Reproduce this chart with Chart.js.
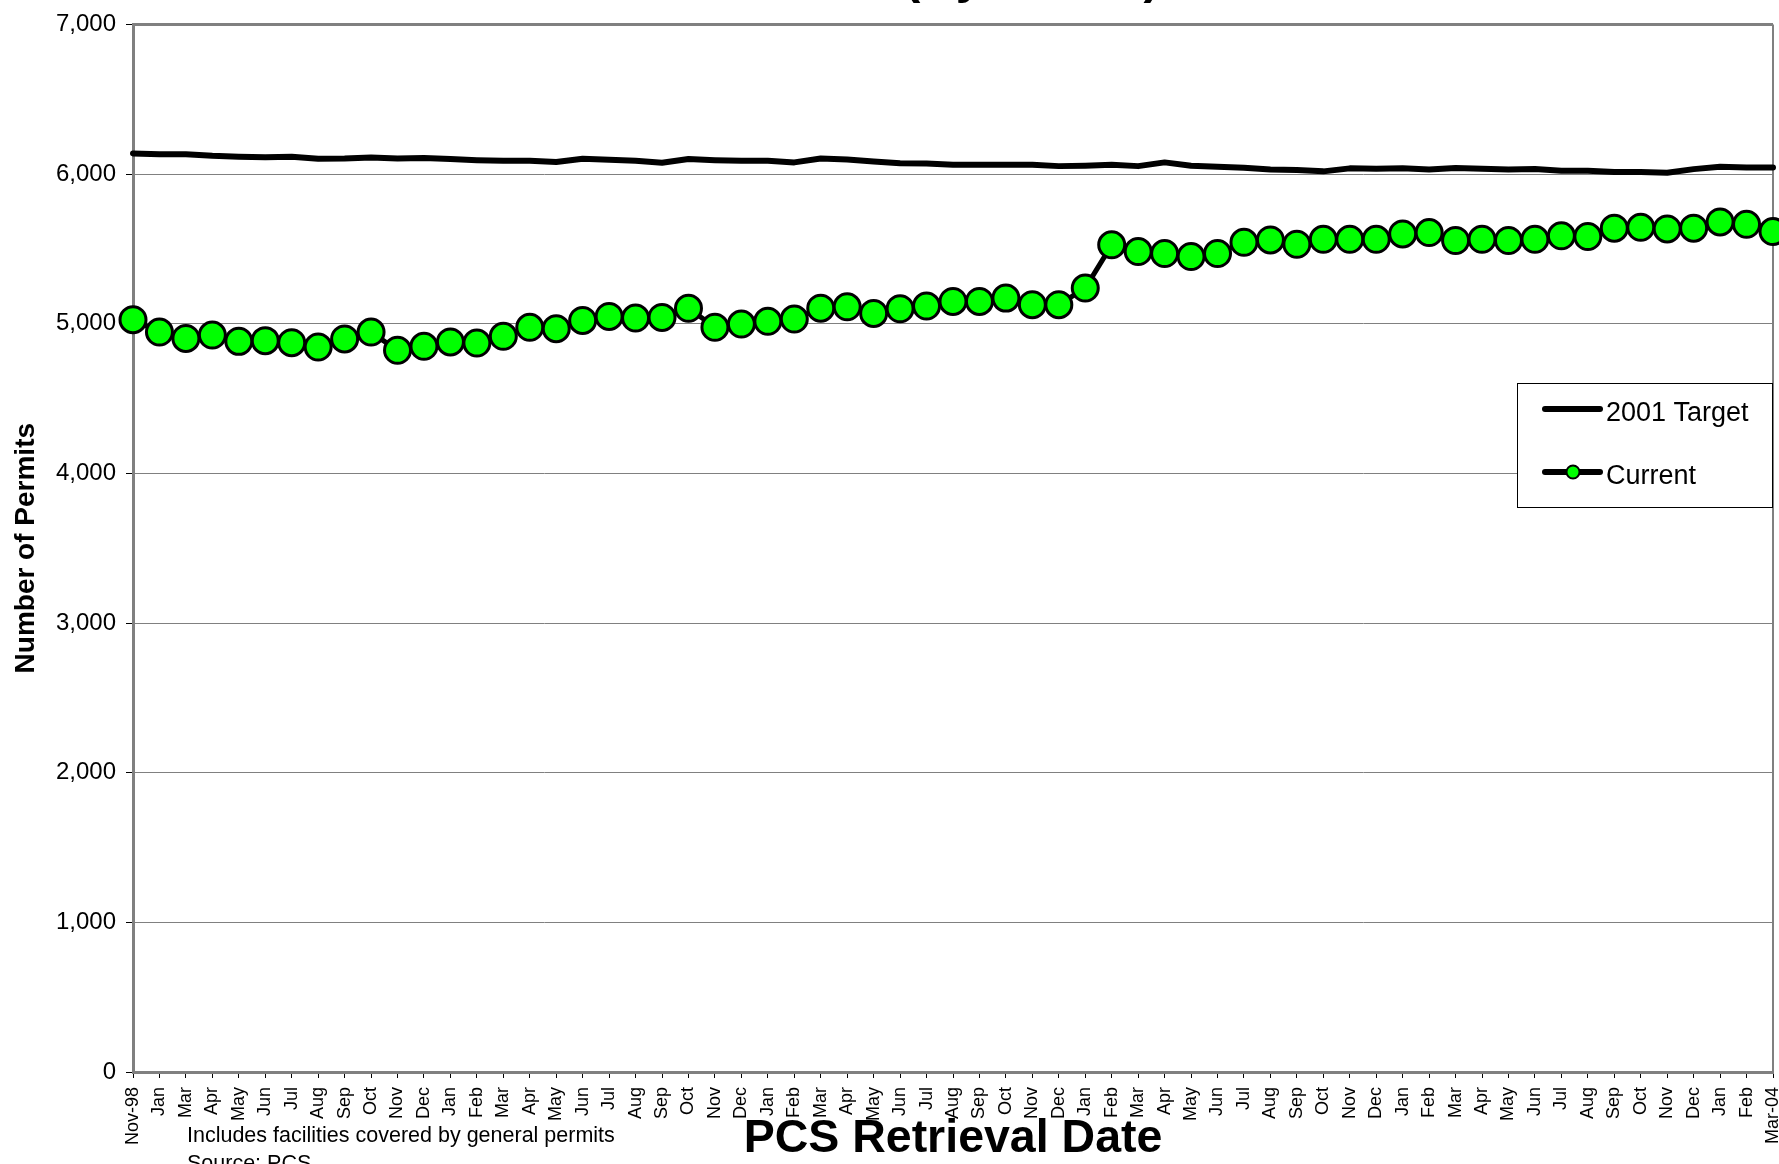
<!DOCTYPE html>
<html>
<head>
<meta charset="utf-8">
<title>Number of Permits by PCS Retrieval Date</title>
<script src="https://cdn.jsdelivr.net/npm/chart.js@4.4.0/dist/chart.umd.min.js"></script>
<style>
  html, body { margin: 0; padding: 0; background: #fff; overflow: hidden; }
  canvas { display: block; }
</style>
</head>
<body>
<canvas id="permits-chart" width="1779" height="1164"></canvas>
<script>
// --- data ---
const months = [
  'Nov-98', 'Jan', 'Mar', 'Apr', 'May', 'Jun', 'Jul', 'Aug', 'Sep', 'Oct', 'Nov', 'Dec',
  'Jan', 'Feb', 'Mar', 'Apr', 'May', 'Jun', 'Jul', 'Aug', 'Sep', 'Oct', 'Nov', 'Dec',
  'Jan', 'Feb', 'Mar', 'Apr', 'May', 'Jun', 'Jul', 'Aug', 'Sep', 'Oct', 'Nov', 'Dec',
  'Jan', 'Feb', 'Mar', 'Apr', 'May', 'Jun', 'Jul', 'Aug', 'Sep', 'Oct', 'Nov', 'Dec',
  'Jan', 'Feb', 'Mar', 'Apr', 'May', 'Jun', 'Jul', 'Aug', 'Sep', 'Oct', 'Nov', 'Dec',
  'Jan', 'Feb', 'Mar-04'
];

const target2001 = [
  6138, 6133, 6133, 6122, 6116, 6113, 6116, 6102, 6104, 6111,
  6104, 6107, 6100, 6093, 6089, 6089, 6080, 6102, 6096, 6089,
  6076, 6100, 6093, 6089, 6089, 6078, 6104, 6098, 6084, 6073,
  6071, 6062, 6062, 6062, 6062, 6053, 6056, 6062, 6053, 6078,
  6056, 6049, 6042, 6031, 6027, 6018, 6038, 6036, 6038, 6031,
  6040, 6036, 6031, 6033, 6022, 6022, 6013, 6013, 6009, 6033,
  6049, 6044, 6044
];

const current = [
  5027, 4944, 4902, 4924, 4882, 4887, 4873, 4844, 4898, 4944,
  4822, 4849, 4878, 4871, 4916, 4976, 4967, 5022, 5049, 5038,
  5042, 5103, 4976, 4998, 5016, 5031, 5104, 5113, 5069, 5100,
  5118, 5149, 5149, 5171, 5127, 5127, 5238, 5527, 5482, 5469,
  5449, 5469, 5544, 5560, 5531, 5564, 5564, 5564, 5600, 5609,
  5556, 5564, 5556, 5564, 5587, 5582, 5638, 5644, 5633, 5638,
  5680, 5664, 5616
];

const yTicks = [0, 1000, 2000, 3000, 4000, 5000, 6000, 7000];

const titleText = '(By Month)';
const yTitle = 'Number of Permits';
const xTitle = 'PCS Retrieval Date';
const notes = ['Includes facilities covered by general permits', 'Source: PCS'];

const FONT = '"Liberation Sans", Arial, sans-serif';
Chart.defaults.font.family = FONT;
Chart.defaults.color = '#000';

// gray frame on top and right of the plot area (Excel style)
const framePlugin = {
  id: 'plotFrame',
  beforeDatasetsDraw(chart) {
    const { ctx, chartArea: a } = chart;
    ctx.save();
    ctx.strokeStyle = '#808080';
    ctx.lineWidth = 3;
    ctx.beginPath();
    ctx.moveTo(a.left, a.top);
    ctx.lineTo(a.right, a.top);
    ctx.stroke();
    ctx.lineWidth = 2;
    ctx.beginPath();
    ctx.moveTo(a.right, a.top);
    ctx.lineTo(a.right, a.bottom);
    ctx.stroke();
    ctx.restore();
  }
};

// titles and footnote
const textPlugin = {
  id: 'chartText',
  afterDraw(chart) {
    const { ctx, chartArea: a } = chart;
    ctx.save();
    ctx.fillStyle = '#000';

    // title sits mostly above the crop, only its bottom shows
    ctx.font = `bold 49px ${FONT}`;
    ctx.textAlign = 'center';
    ctx.textBaseline = 'alphabetic';
    ctx.fillText(titleText, 1032, -7);

    ctx.font = `bold 46.5px ${FONT}`;
    ctx.fillText(xTitle, (a.left + a.right) / 2, 1152);

    ctx.font = `21.5px ${FONT}`;
    ctx.textAlign = 'left';
    notes.forEach((line, i) => ctx.fillText(line, 187, 1142 + i * 28));

    ctx.translate(26, (a.top + a.bottom) / 2);
    ctx.rotate(-Math.PI / 2);
    ctx.font = `bold 28px ${FONT}`;
    ctx.textAlign = 'center';
    ctx.textBaseline = 'middle';
    ctx.fillText(yTitle, 0, 0);
    ctx.restore();
  }
};

// boxed legend: line sample with marker, like the original
const legendPlugin = {
  id: 'boxLegend',
  afterDraw(chart) {
    const { ctx, chartArea: a } = chart;
    const w = 255, h = 124;
    const x = a.right - w - 1, y = 383;
    ctx.save();
    ctx.fillStyle = '#fff';
    ctx.fillRect(x, y, w, h);
    ctx.strokeStyle = '#000';
    ctx.lineWidth = 1;
    ctx.strokeRect(x + 0.5, y + 0.5, w, h);
    ctx.font = `27px ${FONT}`;
    ctx.textBaseline = 'middle';
    ctx.textAlign = 'left';
    chart.data.datasets.forEach((ds, i) => {
      const cy = y + 26 + i * 63;
      ctx.strokeStyle = ds.borderColor;
      ctx.lineWidth = 6;
      ctx.lineCap = 'round';
      ctx.beginPath();
      ctx.moveTo(x + 28, cy);
      ctx.lineTo(x + 83, cy);
      ctx.stroke();
      if (ds.pointRadius > 0) {
        ctx.beginPath();
        ctx.arc(x + 56, cy, 6.5, 0, Math.PI * 2);
        ctx.fillStyle = ds.pointBackgroundColor;
        ctx.fill();
        ctx.lineWidth = 2;
        ctx.strokeStyle = ds.pointBorderColor;
        ctx.stroke();
      }
      ctx.fillStyle = '#000';
      ctx.fillText(ds.label, x + 89, cy + 5);
    });
    ctx.restore();
  }
};

const noPadding = () => ({ left: 0, top: 0, right: 0, bottom: 0 });

new Chart(document.getElementById('permits-chart'), {
  type: 'line',
  data: {
    labels: months,
    datasets: [
      {
        label: '2001 Target',
        data: target2001,
        borderColor: '#000',
        borderWidth: 6,
        borderCapStyle: 'round',
        borderJoinStyle: 'round',
        pointRadius: 0,
        clip: false
      },
      {
        label: 'Current',
        data: current,
        borderColor: '#000',
        borderWidth: 5,
        borderJoinStyle: 'round',
        pointRadius: 13,
        pointBorderWidth: 3,
        pointBackgroundColor: '#00ff00',
        pointBorderColor: '#000',
        clip: false
      }
    ]
  },
  options: {
    responsive: false,
    animation: false,
    events: [],
    layout: { autoPadding: false, padding: { top: 19, right: 6, left: 0, bottom: 0 } },
    plugins: { legend: { display: false }, tooltip: { enabled: false }, title: { display: false } },
    scales: {
      x: {
        offset: false,
        grid: { drawOnChartArea: false, drawTicks: true, tickLength: 6, tickColor: '#000', tickWidth: 1 },
        border: { color: '#808080', width: 3 },
        ticks: { autoSkip: false, minRotation: 90, maxRotation: 90, padding: 9, color: '#000', font: { size: 18 } },
        afterFit(s) {
          s.height = 92;
          s.paddingLeft = 0;
          s.paddingRight = 0;
          s.getPadding = noPadding;
        }
      },
      y: {
        min: yTicks[0],
        max: yTicks[yTicks.length - 1],
        afterBuildTicks(s) { s.ticks = yTicks.map(v => ({ value: v })); },
        ticks: { padding: 10, color: '#000', font: { size: 24 }, callback: v => v.toLocaleString('en-US') },
        grid: { color: '#808080', lineWidth: 1, tickLength: 7, tickColor: '#000' },
        border: { color: '#808080', width: 3 },
        afterFit(s) { s.width = 133; }
      }
    }
  },
  plugins: [framePlugin, textPlugin, legendPlugin]
});
</script>
</body>
</html>
